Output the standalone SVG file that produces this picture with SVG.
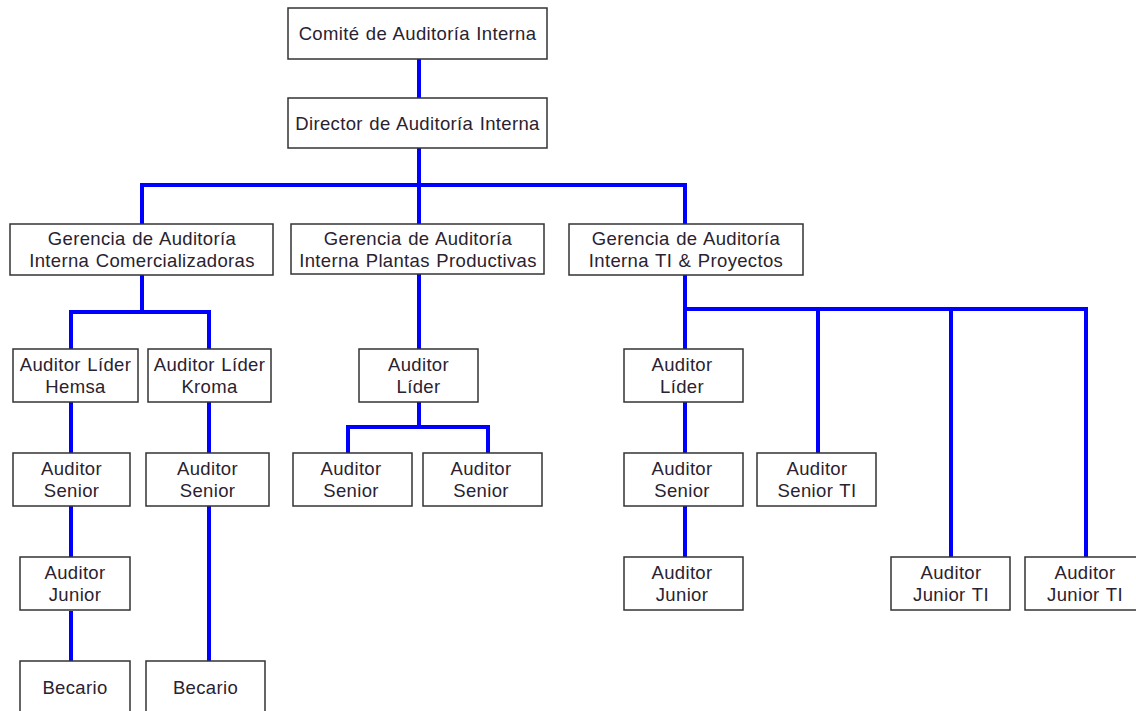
<svg xmlns="http://www.w3.org/2000/svg" width="1136" height="711" viewBox="0 0 1136 711">
  <style>
    .box { fill: #ffffff; stroke: #333333; stroke-width: 1.5; }
    .lbl { font-family: "Liberation Sans", Arial, sans-serif; font-size: 18.5px; letter-spacing: 0.35px; word-spacing: 1px; fill: #2a2230; text-anchor: middle; }
    .wire { fill: none; stroke: #0000ff; stroke-width: 4; stroke-linecap: butt; }
  </style>
  <rect width="1136" height="711" fill="#ffffff"/>

  <!-- reporting lines -->
  <g id="connectors" class="wire">
    <path d="M419 59V98"/>
    <path d="M419 148V224"/>
    <path d="M142 224V185H685V224"/>
    <!-- Comercializadoras branch -->
    <path d="M142 275V312"/>
    <path d="M71 349V312H209V349"/>
    <path d="M71 402V453"/>
    <path d="M71 506V557"/>
    <path d="M71 611V661"/>
    <path d="M209 402V453"/>
    <path d="M209 506V661"/>
    <!-- Plantas Productivas branch -->
    <path d="M419 274V349"/>
    <path d="M419 402V427"/>
    <path d="M348 453V427H488V453"/>
    <!-- TI & Proyectos branch -->
    <path d="M685 275V349"/>
    <path d="M685 309H1086V557"/>
    <path d="M818 309V453"/>
    <path d="M951 309V557"/>
    <path d="M685 402V453"/>
    <path d="M685 506V557"/>
  </g>

  <g id="comite">
    <rect class="box" x="288" y="8" width="259" height="51"/>
    <text class="lbl" x="417.5" y="40">Comité de Auditoría Interna</text>
  </g>
  <g id="director">
    <rect class="box" x="288" y="98" width="259" height="50"/>
    <text class="lbl" x="417.5" y="130">Director de Auditoría Interna</text>
  </g>

  <g id="gerencia-comercializadoras">
    <rect class="box" x="10" y="224" width="263" height="51"/>
    <text class="lbl" x="142" y="245">Gerencia de Auditoría</text>
    <text class="lbl" x="142" y="267">Interna Comercializadoras</text>
  </g>
  <g id="gerencia-plantas">
    <rect class="box" x="291" y="224" width="253" height="50"/>
    <text class="lbl" x="418" y="245">Gerencia de Auditoría</text>
    <text class="lbl" x="418" y="267">Interna Plantas Productivas</text>
  </g>
  <g id="gerencia-ti">
    <rect class="box" x="569" y="224" width="234" height="51"/>
    <text class="lbl" x="686" y="245">Gerencia de Auditoría</text>
    <text class="lbl" x="686" y="267">Interna TI &amp; Proyectos</text>
  </g>

  <!-- Comercializadoras -->
  <g id="lider-hemsa">
    <rect class="box" x="13" y="349" width="125" height="53"/>
    <text class="lbl" x="75.5" y="371">Auditor Líder</text>
    <text class="lbl" x="75.5" y="393">Hemsa</text>
  </g>
  <g id="lider-kroma">
    <rect class="box" x="148" y="349" width="123" height="53"/>
    <text class="lbl" x="209.5" y="371">Auditor Líder</text>
    <text class="lbl" x="209.5" y="393">Kroma</text>
  </g>
  <g id="senior-hemsa">
    <rect class="box" x="13" y="453" width="117" height="53"/>
    <text class="lbl" x="71.5" y="475">Auditor</text>
    <text class="lbl" x="71.5" y="497">Senior</text>
  </g>
  <g id="senior-kroma">
    <rect class="box" x="146" y="453" width="123" height="53"/>
    <text class="lbl" x="207.5" y="475">Auditor</text>
    <text class="lbl" x="207.5" y="497">Senior</text>
  </g>
  <g id="junior-hemsa">
    <rect class="box" x="20" y="557" width="110" height="53"/>
    <text class="lbl" x="75" y="579">Auditor</text>
    <text class="lbl" x="75" y="601">Junior</text>
  </g>
  <g id="becario-hemsa">
    <rect class="box" x="20" y="661" width="110" height="53"/>
    <text class="lbl" x="75" y="694">Becario</text>
  </g>
  <g id="becario-kroma">
    <rect class="box" x="146" y="661" width="119" height="53"/>
    <text class="lbl" x="205.5" y="694">Becario</text>
  </g>

  <!-- Plantas Productivas -->
  <g id="lider-plantas">
    <rect class="box" x="359" y="349" width="119" height="53"/>
    <text class="lbl" x="418.5" y="371">Auditor</text>
    <text class="lbl" x="418.5" y="393">Líder</text>
  </g>
  <g id="senior-plantas-1">
    <rect class="box" x="293" y="453" width="119" height="53"/>
    <text class="lbl" x="351" y="475">Auditor</text>
    <text class="lbl" x="351" y="497">Senior</text>
  </g>
  <g id="senior-plantas-2">
    <rect class="box" x="423" y="453" width="119" height="53"/>
    <text class="lbl" x="481" y="475">Auditor</text>
    <text class="lbl" x="481" y="497">Senior</text>
  </g>

  <!-- TI & Proyectos -->
  <g id="lider-ti">
    <rect class="box" x="624" y="349" width="119" height="53"/>
    <text class="lbl" x="682" y="371">Auditor</text>
    <text class="lbl" x="682" y="393">Líder</text>
  </g>
  <g id="senior-ti-proyectos">
    <rect class="box" x="624" y="453" width="119" height="53"/>
    <text class="lbl" x="682" y="475">Auditor</text>
    <text class="lbl" x="682" y="497">Senior</text>
  </g>
  <g id="senior-ti">
    <rect class="box" x="757" y="453" width="119" height="53"/>
    <text class="lbl" x="817" y="475">Auditor</text>
    <text class="lbl" x="817" y="497">Senior TI</text>
  </g>
  <g id="junior-ti-proyectos">
    <rect class="box" x="624" y="557" width="119" height="53"/>
    <text class="lbl" x="682" y="579">Auditor</text>
    <text class="lbl" x="682" y="601">Junior</text>
  </g>
  <g id="junior-ti-1">
    <rect class="box" x="891" y="557" width="119" height="53"/>
    <text class="lbl" x="951" y="579">Auditor</text>
    <text class="lbl" x="951" y="601">Junior TI</text>
  </g>
  <g id="junior-ti-2">
    <rect class="box" x="1025" y="557" width="119" height="53"/>
    <text class="lbl" x="1085" y="579">Auditor</text>
    <text class="lbl" x="1085" y="601">Junior TI</text>
  </g>
</svg>
